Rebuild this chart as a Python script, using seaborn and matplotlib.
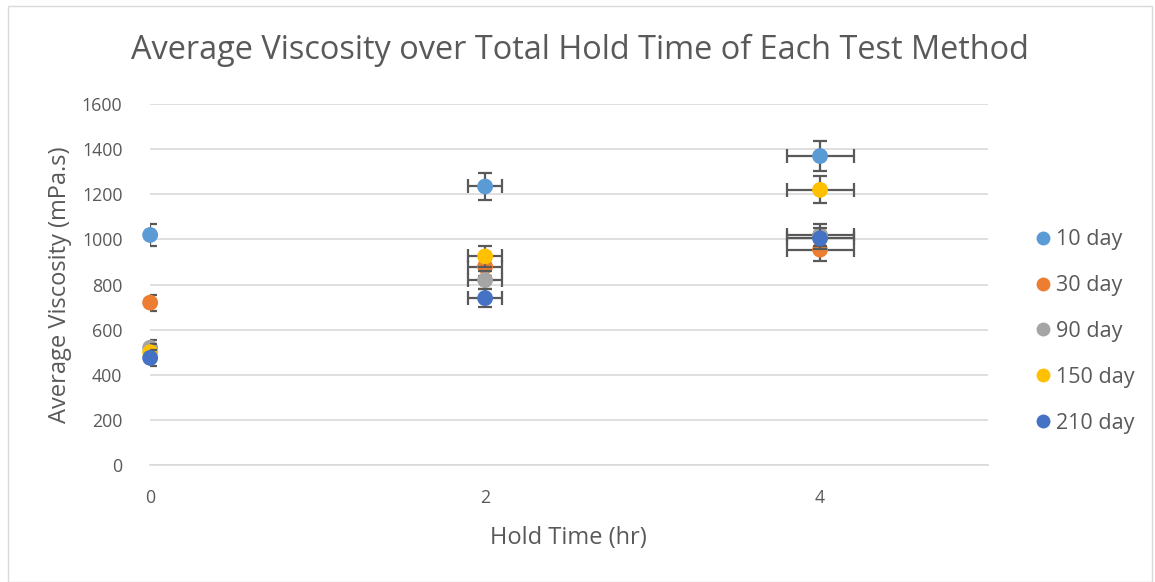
import pandas as pd
import numpy as np
import matplotlib.pyplot as plt
import seaborn as sns
from matplotlib.lines import Line2D

# Average viscosity per hold time
hold_time = [0, 2, 4]
series_names = ["10 day", "30 day", "90 day", "150 day", "210 day"]
viscosity_10 = [1020, 1235, 1370]
viscosity_30 = [720, 880, 955]
viscosity_90 = [520, 820, 1020]
viscosity_150 = [500, 925, 1220]
viscosity_210 = [475, 740, 1005]
yerr_10 = [50, 62, 68]
yerr_30 = [35, 40, 50]
yerr_90 = [35, 40, 50]
yerr_150 = [35, 45, 60]
yerr_210 = [35, 40, 45]
xerr = [0, 0.1, 0.2]

colors = ["#5b9bd5", "#ed7d31", "#a5a5a5", "#ffc000", "#4472c4"]

rows = []
for name, vals, errs in zip(series_names,
                            [viscosity_10, viscosity_30, viscosity_90, viscosity_150, viscosity_210],
                            [yerr_10, yerr_30, yerr_90, yerr_150, yerr_210]):
    for t, v, e, xe in zip(hold_time, vals, errs, xerr):
        rows.append({"series": name, "hold_time": t, "viscosity": v, "yerr": e, "xerr": xe})
df = pd.DataFrame(rows)

sns.set_style("white")
plt.rcParams["font.family"] = ["Open Sans", "DejaVu Sans"]
text_color = "#595959"

fig = plt.figure(figsize=(11.55, 5.82), dpi=100)
ax = fig.add_axes([0.130, 0.201, 0.725, 0.620])

for i, name in enumerate(series_names):
    sub = df[df["series"] == name]
    ax.errorbar(sub["hold_time"], sub["viscosity"], yerr=sub["yerr"], xerr=sub["xerr"],
                fmt="none", ecolor="#595959", elinewidth=1.6, capsize=5, capthick=1.6,
                zorder=3 + 2 * i)
    sns.scatterplot(data=sub, x="hold_time", y="viscosity", color=colors[i], s=130,
                    edgecolor="none", ax=ax, zorder=4 + 2 * i, clip_on=False)

ax.set_xlim(0, 5)
ax.set_ylim(0, 1600)
ax.set_xticks([0, 2, 4])
ax.set_yticks(range(0, 1601, 200))
ax.grid(axis="y", color="#d9d9d9", linewidth=1.2)
ax.set_axisbelow(True)
for s in ["top", "right", "left"]:
    ax.spines[s].set_visible(False)
ax.spines["bottom"].set_color("#d9d9d9")
ax.spines["bottom"].set_linewidth(1.2)
ax.tick_params(axis="x", length=0, labelsize=12.8, labelcolor=text_color, pad=17)
ax.tick_params(axis="y", length=0, labelsize=12.8, labelcolor=text_color, pad=20)

ax.set_xlabel("Hold Time (hr)", fontsize=17, color=text_color, labelpad=14)
ax.set_ylabel("Average Viscosity (mPa.s)", fontsize=17, color=text_color, labelpad=7)
fig.text(0.502, 0.913, "Average Viscosity over Total Hold Time of Each Test Method",
         ha="center", va="center", fontsize=23.4, color=text_color)

handles = [Line2D([0], [0], marker="o", linestyle="none", markersize=10,
                  markerfacecolor=c, markeredgecolor="none") for c in colors]
ax.legend(handles, series_names, loc="center left", bbox_to_anchor=(1.029, 0.37),
          frameon=False, fontsize=15.5, labelcolor=text_color, labelspacing=1.15,
          handletextpad=0.05, handlelength=1.1)

fig.patches.append(plt.Rectangle((0.007, 0.0), 0.99, 0.99, transform=fig.transFigure,
                                 fill=False, edgecolor="#d9d9d9", linewidth=1))

plt.savefig("out.png", dpi=100)
